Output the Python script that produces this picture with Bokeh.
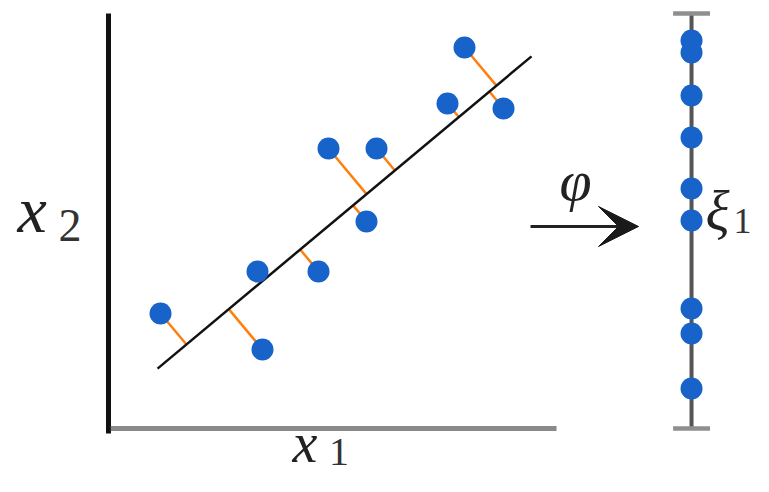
import numpy as np
from bokeh.plotting import figure
from bokeh.models import Range1d, Arrow, VeeHead
from bokeh.core.properties import value
from bokeh.embed import file_html
from bokeh.resources import INLINE

# ---- data (left panel, units of the x1 / x2 axes) ----
x1 = [1.156, 3.422, 3.311, 4.667, 4.889, 5.956, 5.733, 7.533, 8.778, 7.911]
x2 = [2.556, 1.756, 3.489, 3.489, 6.222, 6.222, 4.600, 7.222, 7.111, 8.467]
# principal direction line (start/end)
line_x1 = [1.09, 9.40]
line_x2 = [1.33, 8.27]
# projected coordinates shown on the right 1-D axis
xi1 = [8.622, 8.356, 7.400, 6.467, 5.333, 4.622, 2.667, 2.111, 0.889]
xi_axis_range = [0.0, 9.222]

# ---- projections of points onto the line ----
a = np.array([line_x1[0], line_x2[0]])
b = np.array([line_x1[1], line_x2[1]])
u = (b - a) / np.linalg.norm(b - a)
P = np.column_stack([x1, x2])
t = (P - a) @ u
F = a + np.outer(t, u)

p = figure(width=753, height=476,
           x_range=Range1d(-2.4, 14.333), y_range=Range1d(-1.067, 9.511),
           output_backend="svg", toolbar_location=None,
           x_axis_type=None, y_axis_type=None, min_border=0)
p.outline_line_color = None
p.background_fill_color = "white"
p.border_fill_color = "white"

# axes of the left panel
p.segment(x0=[0.0], y0=[9.222], x1=[0.0], y1=[-0.11], line_color="#111111", line_width=5)
p.segment(x0=[0.05], y0=[0.0], x1=[9.956], y1=[0.0], line_color="#8a8a8a", line_width=5)

# orange projection segments
p.segment(x0=P[:, 0], y0=P[:, 1], x1=F[:, 0], y1=F[:, 1], line_color="#ff7f0e", line_width=2.5)
# principal line
p.line(x=line_x1, y=line_x2, line_color="#111111", line_width=2.5)
# points
p.scatter(x=x1, y=x2, marker="circle", size=22, fill_color="#1763c9", line_color=None)

# right 1-D axis
xa = 12.956
p.segment(x0=[xa], y0=[xi_axis_range[0]], x1=[xa], y1=[xi_axis_range[1]], line_color="#555555", line_width=4)
p.segment(x0=[xa - 0.41, xa - 0.41], y0=xi_axis_range, x1=[xa + 0.41, xa + 0.41], y1=xi_axis_range,
          line_color="#8f8f8f", line_width=4.5)
p.scatter(x=[xa] * len(xi1), y=xi1, marker="circle", size=22, fill_color="#1763c9", line_color=None)

# arrow phi
p.add_layout(Arrow(end=VeeHead(size=40, fill_color="#1a1a1a", line_color="#1a1a1a"),
                   x_start=9.378, y_start=4.489, x_end=11.778, y_end=4.489,
                   line_width=3, line_color="#222222"))

serif = value("Liberation Serif")
# italic x symbols
p.text(x=[-2.022], y=[4.876], text=["x"], text_font=serif, text_font_style="italic",
       text_font_size="66px", text_align="left", text_baseline="alphabetic", text_color="#222222")
p.text(x=[4.089], y=[-0.333], text=["x"], text_font=serif, text_font_style="italic",
       text_font_size="56px", text_align="left", text_baseline="alphabetic", text_color="#222222")
# subscripts
p.text(x=[-1.111], y=[4.511], text=["2"], text_font=serif,
       text_font_style="normal", text_font_size="46px", text_align="left", text_baseline="alphabetic",
       text_color="#333333")
p.text(x=[4.9], y=[-0.533], text=["1"], text_font=serif,
       text_font_style="normal", text_font_size="40px", text_align="left", text_baseline="alphabetic",
       text_color="#333333")
p.text(x=[13.889], y=[4.6], text=["1"], text_font=serif,
       text_font_style="normal", text_font_size="36px", text_align="left", text_baseline="alphabetic",
       text_color="#333333")
# phi and xi
p.text(x=[10.378], y=[5.511], text=["φ"], text_font=serif, text_font_style="italic",
       text_font_size="58px", text_align="center", text_baseline="middle", text_color="#222222")
p.text(x=[13.533], y=[4.844], text=["ξ"], text_font=serif, text_font_style="italic",
       text_font_size="56px", text_align="center", text_baseline="middle", text_color="#222222")

open("out.html", "w").write(file_html(p, INLINE))
